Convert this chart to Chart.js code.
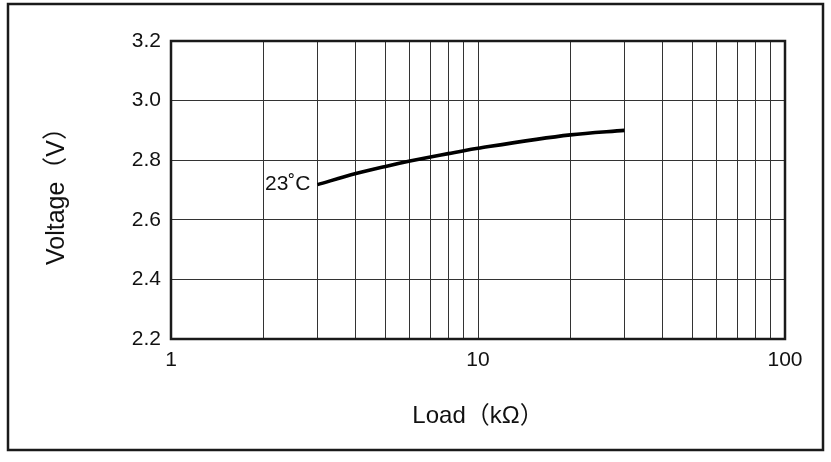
<!DOCTYPE html>
<html>
<head>
<meta charset="utf-8">
<title>Voltage vs Load</title>
<script src="https://cdn.jsdelivr.net/npm/chart.js@4/dist/chart.umd.min.js"></script>
<style>
  html, body { margin: 0; padding: 0; background: #fff; }
  #wrap { width: 831px; height: 462px; }
</style>
</head>
<body>
<div id="wrap"><canvas id="chart" width="831" height="462"></canvas></div>
<script>
// data
const loadValues = [3, 4, 5, 6, 7, 8, 9, 10, 20, 30];
const voltageValues = [2.718, 2.755, 2.779, 2.797, 2.811, 2.822, 2.832, 2.840, 2.885, 2.900];
const curveLabel = "23˚C";

// axes
const xGridValues = [1, 2, 3, 4, 5, 6, 7, 8, 9, 10, 20, 30, 40, 50, 60, 70, 80, 90, 100];
const xTickLabels = [1, 10, 100];
const yTickLabels = [2.2, 2.4, 2.6, 2.8, 3.0, 3.2];
const xTitle = "Load（kΩ）";
const yTitle = "Voltage（V）";

const fontFamily = "'Liberation Sans', Arial, 'Noto Sans CJK JP', sans-serif";
const ink = "#111";

// outer frame + plot frame + curve label
const framePlugin = {
    id: "frames",
    afterDraw(chart) {
        const ctx = chart.ctx;
        const area = chart.chartArea;
        ctx.save();
        ctx.strokeStyle = "#1a1a1a";
        ctx.lineWidth = 2.5;
        ctx.strokeRect(8, 4, 815, 446);
        ctx.strokeRect(area.left, area.top, area.right - area.left, area.bottom - area.top);

        const xs = chart.scales.x, ys = chart.scales.y;
        const px = xs.getPixelForValue(loadValues[0]);
        const py = ys.getPixelForValue(voltageValues[0]);
        ctx.fillStyle = ink;
        ctx.font = "21px " + fontFamily;
        ctx.textAlign = "right";
        ctx.textBaseline = "middle";
        ctx.fillText(curveLabel, px - 7, py);
        ctx.restore();
    }
};

new Chart(document.getElementById("chart"), {
    type: "line",
    data: {
        datasets: [{
            data: loadValues.map((x, i) => ({ x: x, y: voltageValues[i] })),
            borderColor: "#000",
            borderWidth: 3.6,
            pointRadius: 0,
            fill: false,
            cubicInterpolationMode: "monotone"
        }]
    },
    options: {
        responsive: false,
        animation: false,
        events: [],
        layout: { padding: { left: 0, right: 46, top: 41, bottom: 0 } },
        plugins: { legend: { display: false }, tooltip: { enabled: false } },
        scales: {
            x: {
                type: "logarithmic",
                min: 1,
                max: 100,
                afterBuildTicks: (scale) => {
                    scale.ticks = xGridValues.map(v => ({ value: v }));
                },
                afterFit: (scale) => { scale.height = 123; },
                grid: { color: "#333", lineWidth: 1, drawTicks: false },
                border: { display: false },
                ticks: {
                    autoSkip: false,
                    maxRotation: 0,
                    padding: 9,
                    color: ink,
                    font: { family: fontFamily, size: 21 },
                    callback: (value) => xTickLabels.includes(value) ? String(value) : ""
                },
                title: {
                    display: true,
                    text: xTitle,
                    color: ink,
                    font: { family: fontFamily, size: 24 },
                    padding: { top: 0, bottom: 31 }
                }
            },
            y: {
                min: 2.2,
                max: 3.2,
                afterBuildTicks: (scale) => {
                    scale.ticks = yTickLabels.map(v => ({ value: v }));
                },
                afterFit: (scale) => { scale.width = 171; },
                grid: { color: "#333", lineWidth: 1, drawTicks: false },
                border: { display: false },
                ticks: {
                    padding: 10,
                    color: ink,
                    font: { family: fontFamily, size: 21 },
                    callback: (value) => Number(value).toFixed(1)
                },
                title: {
                    display: true,
                    text: yTitle,
                    color: ink,
                    font: { family: fontFamily, size: 25 },
                    padding: { top: 42, bottom: 0 }
                }
            }
        }
    },
    plugins: [framePlugin]
});
</script>
</body>
</html>
